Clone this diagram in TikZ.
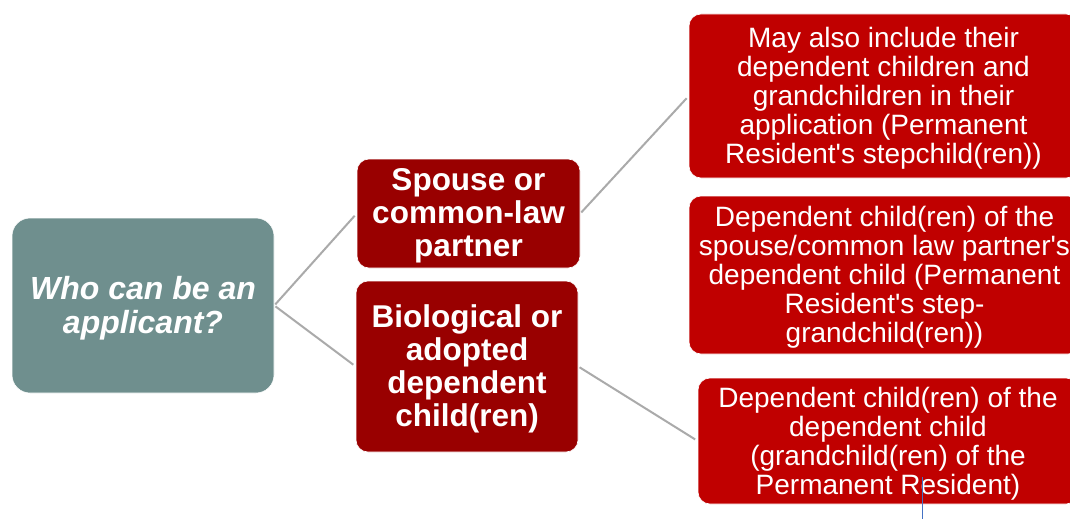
\documentclass[tikz,border=0pt]{standalone}
\usepackage{fontspec}
\setmainfont{Liberation Sans}
\definecolor{rootfill}{RGB}{111,143,142}
\definecolor{darkred}{RGB}{153,0,0}
\definecolor{brightred}{RGB}{192,0,0}
\definecolor{linegray}{RGB}{170,170,170}
\definecolor{cursorblue}{RGB}{68,114,196}
\newcommand{\apos}{\textquotesingle}
\tikzset{
  box/.style={rounded corners=12pt, inner sep=0pt, draw=white, line width=0.6pt},
  rootbox/.style={box, fill=rootfill, rounded corners=18pt},
  midbox/.style={box, fill=darkred},
  leafbox/.style={box, fill=brightred},
  txt/.style={inner sep=0pt, text=white, align=center},
  roottxt/.style={txt, font=\fontsize{32}{34}\selectfont\bfseries\itshape},
  midtxt/.style={txt, font=\fontsize{31.5}{33}\selectfont\bfseries},
  leaftxt/.style={txt, font=\fontsize{28}{29}\selectfont},
  conn/.style={draw=linegray, line width=2pt, shorten <=1.5pt, shorten >=3pt}
}
\begin{document}
\begin{tikzpicture}[x=1pt,y=-1pt]
\useasboundingbox[fill=white] (0,0) rectangle (1070,519);
\node[rootbox, minimum width=262pt, minimum height=175pt] (root) at (143,305.5) {};
\node[midbox, minimum width=223pt, minimum height=109pt] (spouse) at (468.5,213.5) {};
\node[midbox, minimum width=222pt, minimum height=171pt] (bio) at (467,366.5) {};
\node[leafbox, minimum width=389pt, minimum height=164pt] (top) at (883.5,96) {};
\node[leafbox, minimum width=391pt, minimum height=158pt] (mid) at (884.5,275) {};
\node[leafbox, minimum width=380pt, minimum height=126pt] (bot) at (888,441) {};
\node[roottxt] (roott) at ([yshift=-2.5pt]root.center) {Who can be an\\applicant?};
\node[midtxt] (spouset) at ([yshift=-2.5pt]spouse.center) {Spouse or\\common-law\\partner};
\node[midtxt] (biot) at ([yshift=-2.5pt]bio.center) {Biological or\\adopted\\dependent\\child(ren)};
\node[leaftxt] (topt) at ([yshift=-2.5pt]top.center) {May also include their\\dependent children and\\grandchildren in their\\application (Permanent\\Resident\apos s stepchild(ren))};
\node[leaftxt] (midt) at ([yshift=-2.5pt]mid.center) {Dependent child(ren) of the\\spouse/common law partner\apos s\\dependent child (Permanent\\Resident\apos s step-\\grandchild(ren))};
\node[leaftxt] (bott) at ([yshift=-2.5pt]bot.center) {Dependent child(ren) of the\\dependent child\\(grandchild(ren) of the\\Permanent Resident)};
\draw[conn] (root.east) -- (spouse.west);
\draw[conn] (root.east) -- (bio.west);
\draw[conn] (spouse.east) -- (top.west);
\draw[conn] (bio.east) -- (bot.west);
\coordinate (cura) at (922,477);
\coordinate (curb) at (922,519);
\draw[cursorblue, line width=1pt] (cura) -- (curb);
\end{tikzpicture}
\end{document}
